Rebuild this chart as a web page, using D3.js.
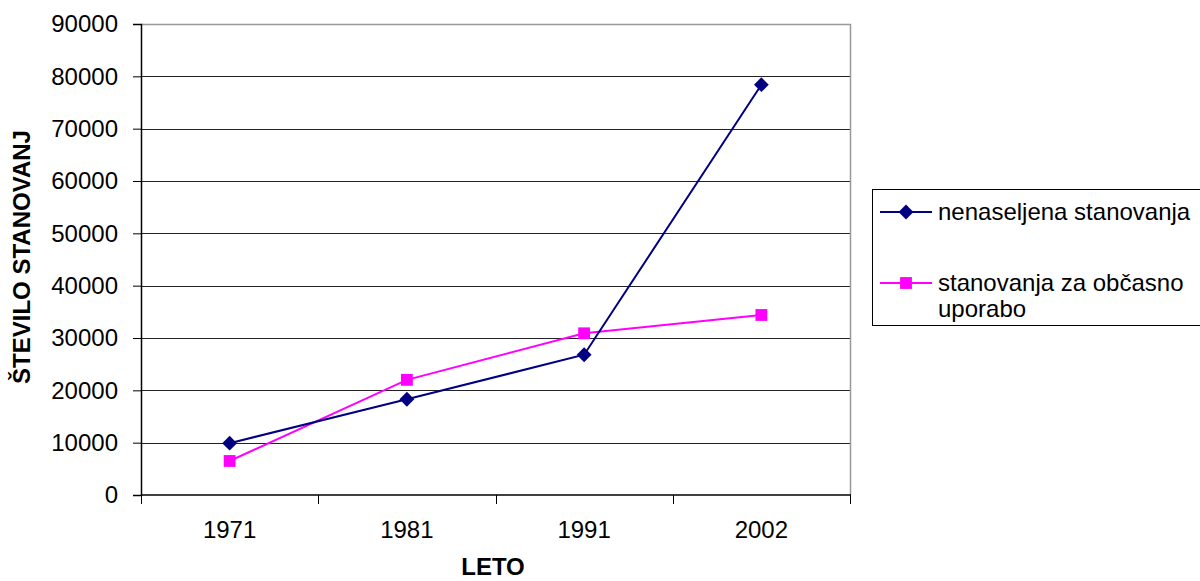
<!DOCTYPE html>
<html>
<head>
<meta charset="utf-8">
<script src="https://cdn.jsdelivr.net/npm/d3@7"></script>
<style>
  body { margin: 0; background: #fff; }
  text { font-family: "Liberation Sans", Arial, sans-serif; }
</style>
</head>
<body>
<div id="chart"></div>
<script>
const years = ["1971", "1981", "1991", "2002"];
const nenaseljena = [9900, 18300, 26800, 78400];
const obcasno = [6500, 22000, 30900, 34400];
const yTicks = [0, 10000, 20000, 30000, 40000, 50000, 60000, 70000, 80000, 90000];
const seriesNames = ["nenaseljena stanovanja", "stanovanja za občasno|uporabo"];

const width = 1200, height = 581;
const plot = {left: 141, right: 850, top: 24, bottom: 495};
const fontSize = 24;

const svg = d3.select("#chart").append("svg")
  .attr("width", width)
  .attr("height", height);

const x = d3.scaleBand()
  .domain(years)
  .range([plot.left, plot.right]);

const y = d3.scaleLinear()
  .domain([0, 90000])
  .range([plot.bottom, plot.top]);

// gridlines
svg.append("g")
  .selectAll("line")
  .data(yTicks.filter(d => d > 0 && d < 90000))
  .join("line")
  .attr("x1", plot.left).attr("x2", plot.right)
  .attr("y1", d => Math.round(y(d)) + 0.5).attr("y2", d => Math.round(y(d)) + 0.5)
  .attr("stroke", "#222").attr("stroke-width", 1);

// plot border top/right
svg.append("path")
  .attr("d", `M${plot.left},${plot.top + 0.5}H${plot.right + 0.5}V${plot.bottom}`)
  .attr("fill", "none")
  .attr("stroke", "#999")
  .attr("stroke-width", 1.5);

// y axis
const yAxis = d3.axisLeft(y)
  .tickValues(yTicks)
  .tickFormat(d3.format("d"))
  .tickSize(8)
  .tickPadding(15);

const yAxisG = svg.append("g")
  .attr("transform", `translate(${plot.left},0)`)
  .call(yAxis);
yAxisG.attr("font-size", fontSize).attr("font-family", "Liberation Sans, Arial, sans-serif");
yAxisG.select(".domain").attr("stroke", "#000").attr("stroke-width", 1.5);
yAxisG.selectAll(".tick line").attr("stroke", "#000");
yAxisG.selectAll(".tick text")
  .attr("font-size", fontSize)
  .attr("fill", "#000");

// x axis with ticks at category boundaries
const xAxisG = svg.append("g")
  .attr("transform", `translate(0,${plot.bottom})`);
xAxisG.append("line")
  .attr("x1", plot.left).attr("x2", plot.right + 1)
  .attr("stroke", "#000").attr("stroke-width", 1.5);
const bounds = years.map(d => x(d)).concat([plot.right]);
xAxisG.selectAll(".btick")
  .data(bounds)
  .join("line")
  .attr("class", "btick")
  .attr("x1", d => Math.round(d) + 0.5).attr("x2", d => Math.round(d) + 0.5)
  .attr("y1", 0).attr("y2", 9)
  .attr("stroke", "#000");
xAxisG.selectAll(".xlabel")
  .data(years)
  .join("text")
  .attr("class", "xlabel")
  .attr("x", d => x(d) + x.bandwidth() / 2)
  .attr("y", 43)
  .attr("text-anchor", "middle")
  .attr("font-size", fontSize)
  .text(d => d);

// axis titles
svg.append("text")
  .attr("transform", `translate(30,257) rotate(-90)`)
  .attr("text-anchor", "middle")
  .attr("font-size", fontSize)
  .attr("font-weight", "bold")
  .text("ŠTEVILO STANOVANJ");

svg.append("text")
  .attr("x", 493)
  .attr("y", 575)
  .attr("text-anchor", "middle")
  .attr("font-size", fontSize)
  .attr("font-weight", "bold")
  .text("LETO");

// lines
const line = d3.line()
  .x((d, i) => x(years[i]) + x.bandwidth() / 2)
  .y(d => y(d));

const blue = "#000080", pink = "#ff00ff";

svg.append("path")
  .attr("d", line(obcasno))
  .attr("fill", "none").attr("stroke", pink).attr("stroke-width", 2);
svg.append("path")
  .attr("d", line(nenaseljena))
  .attr("fill", "none").attr("stroke", blue).attr("stroke-width", 2);

const diamond = d3.symbol().type(d3.symbolDiamond2).size(140);
const square = d3.symbol().type(d3.symbolSquare).size(140);

svg.selectAll(".sq")
  .data(obcasno)
  .join("path")
  .attr("class", "sq")
  .attr("transform", (d, i) => `translate(${x(years[i]) + x.bandwidth() / 2},${y(d)})`)
  .attr("d", square)
  .attr("fill", pink);

svg.selectAll(".dm")
  .data(nenaseljena)
  .join("path")
  .attr("class", "dm")
  .attr("transform", (d, i) => `translate(${x(years[i]) + x.bandwidth() / 2},${y(d)})`)
  .attr("d", diamond)
  .attr("fill", blue);

// legend
const legend = svg.append("g");
legend.append("rect")
  .attr("x", 872.5).attr("y", 189.5)
  .attr("width", 340).attr("height", 136)
  .attr("fill", "#fff").attr("stroke", "#000").attr("stroke-width", 1);

const legendRows = [
  {color: blue, sym: diamond, y: 212, lines: seriesNames[0].split("|")},
  {color: pink, sym: square, y: 283, lines: seriesNames[1].split("|")}
];
legendRows.forEach(r => {
  legend.append("line")
    .attr("x1", 880).attr("x2", 932)
    .attr("y1", r.y).attr("y2", r.y)
    .attr("stroke", r.color).attr("stroke-width", 2);
  legend.append("path")
    .attr("transform", `translate(906,${r.y})`)
    .attr("d", r.sym)
    .attr("fill", r.color);
  r.lines.forEach((t, i) => {
    legend.append("text")
      .attr("x", 938)
      .attr("y", r.y + 8 + i * 26)
      .attr("font-size", fontSize)
      .text(t);
  });
});
</script>
</body>
</html>
